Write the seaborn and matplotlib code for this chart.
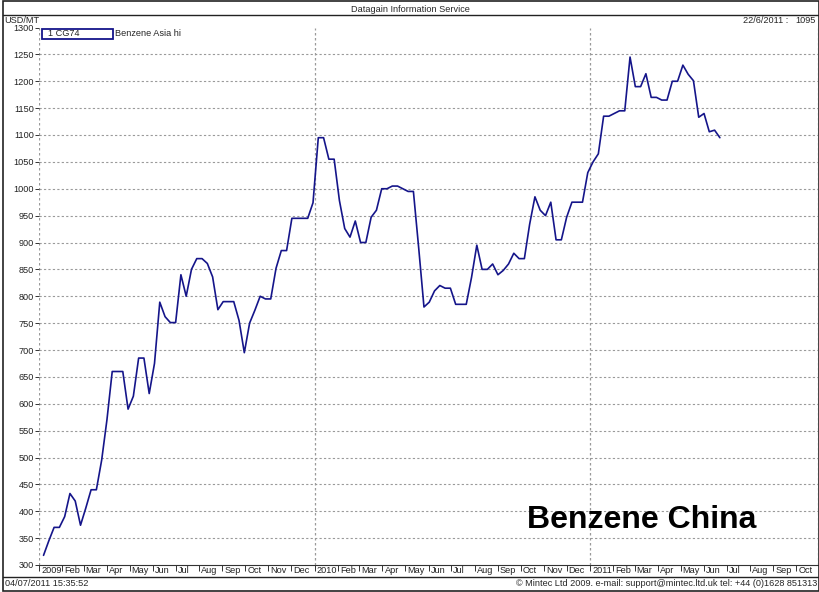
import numpy as np
import pandas as pd
import matplotlib
matplotlib.use("Agg")
import matplotlib.pyplot as plt
import matplotlib.dates as mdates
import matplotlib.transforms as mtransforms
from matplotlib.lines import Line2D
from matplotlib.patches import Rectangle
import seaborn as sns

# ---------------- data ----------------
start_date = "2009-01-07"   # weekly (Wednesday) quotes
prices = [
    318, 345, 370, 370, 390, 433, 419, 374, 406, 440,
    440, 495, 570, 660, 660, 660, 590, 614, 685, 685,
    619, 675, 789, 762, 751, 751, 840, 800, 850, 870,
    870, 861, 836, 775, 790, 790, 790, 755, 695, 750,
    774, 800, 795, 795, 852, 885, 885, 945, 945, 945,
    945, 974, 1095, 1095, 1055, 1055, 978, 926, 910, 940,
    900, 900, 947, 960, 1000, 1000, 1005, 1005, 1000, 995,
    995, 890, 780, 789, 810, 820, 815, 815, 785, 785,
    785, 835, 895, 850, 850, 860, 840, 848, 860, 880,
    870, 870, 934, 985, 960, 950, 975, 905, 905, 947,
    975, 975, 975, 1030, 1050, 1065, 1135, 1135, 1140, 1145,
    1145, 1245, 1190, 1190, 1214, 1170, 1170, 1165, 1165, 1200,
    1200, 1230, 1213, 1201, 1133, 1140, 1106, 1109, 1095,
]
month_names = ["Jan", "Feb", "Mar", "Apr", "May", "Jun",
               "Jul", "Aug", "Sep", "Oct", "Nov", "Dec"]
axis_start = "2009-01-01"
axis_end = "2011-10-30"
tick_first = "2009-01-01"
tick_last = "2011-10-01"
yticks = list(range(300, 1301, 50))

title_text = "Datagain Information Service"
unit_text = "USD/MT"
last_text = "22/6/2011 :"
last_value = "1095"
legend_code = "1 CG74"
legend_name = "Benzene Asia hi"
big_label = "Benzene China"
stamp_text = "04/07/2011 15:35:52"
copyright_text = "\u00a9 Mintec Ltd 2009. e-mail: support@mintec.ltd.uk tel: +44 (0)1628 851313"

df = pd.DataFrame({
    "date": pd.date_range(start_date, periods=len(prices), freq="7D"),
    "price": prices,
})

# ---------------- style ----------------
sns.set_style("white")
plt.rcParams["font.family"] = ["Liberation Sans", "DejaVu Sans"]
W, H = 820, 592
small = 6.6
line_color = "#15158a"
grid_color = "#9a9a9a"

fig = plt.figure(figsize=(W / 100, H / 100), dpi=100)
fig.patch.set_facecolor("white")

ax_l, ax_r, ax_t, ax_b = 39, 818, 27.5, 565
ax = fig.add_axes([ax_l / W, 1 - ax_b / H, (ax_r - ax_l) / W, (ax_b - ax_t) / H])

sns.lineplot(data=df, x="date", y="price", ax=ax, color=line_color,
             linewidth=1.2, legend=False)

ax.set_xlim(pd.Timestamp(axis_start), pd.Timestamp(axis_end))
ax.set_ylim(300, 1300)
ax.set_xlabel("")
ax.set_ylabel("")

# horizontal dotted grid
for v in yticks:
    if 300 < v < 1300:
        ax.axhline(v, color=grid_color, linestyle=(0, (2, 2)), linewidth=0.8, zorder=0)
# vertical dotted lines at year starts
for yr in ["2009-01-01", "2010-01-01", "2011-01-01"]:
    ax.axvline(pd.Timestamp(yr), color=grid_color, linestyle=(0, (2, 2)),
               linewidth=0.9, zorder=0)
ax.axvline(pd.Timestamp(axis_end), color=grid_color, linestyle=(0, (2, 2)),
           linewidth=0.9, zorder=0)

for s in ["top", "right", "left"]:
    ax.spines[s].set_visible(False)
ax.spines["bottom"].set_color("#333333")
ax.spines["bottom"].set_linewidth(0.8)

# y ticks
ax.set_yticks(yticks)
ax.set_yticklabels([str(v) for v in yticks], fontsize=small, color="#222222")
ax.tick_params(axis="y", direction="out", length=3, width=0.7, pad=0.5,
               color="#333333", left=True)

# x ticks at month starts
tick_dates = pd.date_range(tick_first, tick_last, freq="MS")
tick_labels = [str(d.year) if d.month == 1 else month_names[d.month - 1]
               for d in tick_dates]
ax.set_xticks(tick_dates)
ax.set_xticklabels(tick_labels, fontsize=small, color="#222222", ha="left")
ax.tick_params(axis="x", direction="out", length=4, width=0.7, pad=-3.0,
               color="#333333", bottom=True)
offset = mtransforms.ScaledTranslation(1.5 / 72, 0, fig.dpi_scale_trans)
for lbl in ax.get_xticklabels():
    lbl.set_transform(lbl.get_transform() + offset)

# ---------------- frame / header / footer ----------------
def fx(x):
    return x / W

def fy(y):
    return 1 - y / H

frame_kw = dict(color="#222222", linewidth=1.0, transform=fig.transFigure)
fig.add_artist(Rectangle((fx(3), fy(591)), fx(819) - fx(3), fy(1) - fy(591),
                         fill=False, edgecolor="#222222", linewidth=1.2,
                         transform=fig.transFigure))
fig.add_artist(Line2D([fx(3), fx(819)], [fy(15), fy(15)], **frame_kw))
fig.add_artist(Line2D([fx(3), fx(819)], [fy(577), fy(577)], **frame_kw))

fig.text(fx(410), fy(9), title_text, ha="center", va="center", fontsize=small)
fig.text(fx(4), fy(20.5), unit_text, ha="left", va="center", fontsize=small)
fig.text(fx(788), fy(20.5), last_text, ha="right", va="center", fontsize=small)
fig.text(fx(816), fy(20.5), last_value, ha="right", va="center", fontsize=small)
fig.text(fx(5), fy(584), stamp_text, ha="left", va="center", fontsize=small)
fig.text(fx(817), fy(584), copyright_text, ha="right", va="center", fontsize=small)

# legend box
fig.add_artist(Rectangle((fx(42.5), fy(39)), fx(112.5) - fx(42.5), fy(29) - fy(39),
                         fill=False, edgecolor=line_color, linewidth=1.3,
                         transform=fig.transFigure))
fig.text(fx(48), fy(34), legend_code, ha="left", va="center", fontsize=small)
fig.text(fx(115), fy(34), legend_name, ha="left", va="center", fontsize=small)

# big label
fig.text(fx(527), fy(520), big_label, ha="left", va="center", fontsize=23,
         fontweight="bold", color="black")

fig.savefig("out.png", dpi=100, facecolor="white")
